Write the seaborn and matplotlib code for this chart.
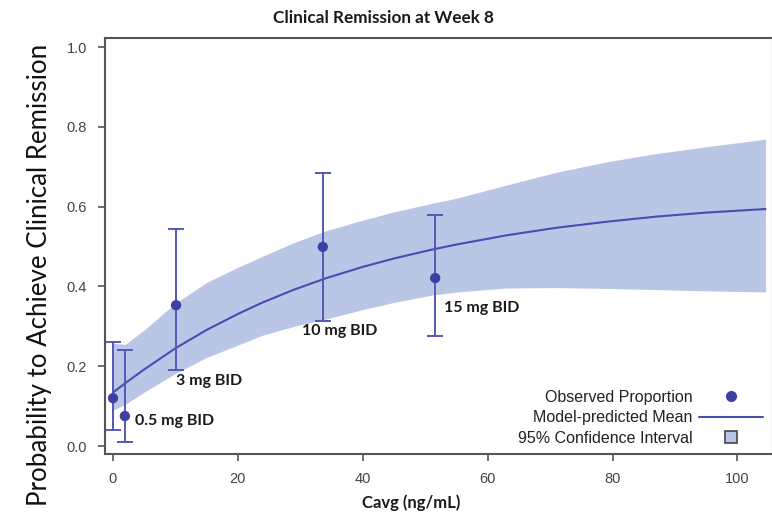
import matplotlib
matplotlib.use("Agg")
import matplotlib.pyplot as plt
import seaborn as sns
import pandas as pd
from matplotlib.lines import Line2D

# ---- data ----
dose_labels = ["Placebo", "0.5 mg BID", "3 mg BID", "10 mg BID", "15 mg BID"]
obs_cavg = [0.0, 1.9, 10.1, 33.6, 51.6]
obs_prop = [0.120, 0.075, 0.353, 0.499, 0.421]
obs_low = [0.040, 0.010, 0.190, 0.313, 0.276]
obs_high = [0.260, 0.240, 0.544, 0.684, 0.578]

curve_cavg = [0, 2, 5, 10, 15, 20, 24, 29, 34, 40, 45, 51, 55, 63, 71, 79, 87, 95, 104.5]
curve_mean = [0.134, 0.158, 0.192, 0.245, 0.291, 0.331, 0.360, 0.392, 0.420, 0.449, 0.470,
              0.492, 0.505, 0.528, 0.547, 0.562, 0.575, 0.585, 0.594]
curve_upper = [0.257, 0.255, 0.291, 0.358, 0.410, 0.448, 0.476, 0.510, 0.539, 0.566, 0.587,
               0.608, 0.621, 0.654, 0.686, 0.712, 0.733, 0.750, 0.769]
curve_lower = [0.090, 0.105, 0.135, 0.182, 0.222, 0.253, 0.278, 0.300, 0.318, 0.342, 0.360,
               0.378, 0.386, 0.396, 0.397, 0.395, 0.392, 0.389, 0.386]

x_ticks = [0, 20, 40, 60, 80, 100]
y_ticks = [0.0, 0.2, 0.4, 0.6, 0.8, 1.0]

# ---- styling ----
sns.set_theme(style="white")
plt.rcParams["font.family"] = ["Liberation Sans", "DejaVu Sans"]

dot_col = "#3c3fa3"
err_col = "#5557b5"
line_col = "#4a4cb2"
band_col = "#bac6e5"
spine_col = "#555555"

W, H = 772, 512
fig = plt.figure(figsize=(W / 100, H / 100), dpi=100)
ax = fig.add_axes([105 / W, 1 - 454 / H, (773 - 105) / W, (454 - 38) / H])

curve = pd.DataFrame({"cavg": curve_cavg, "mean": curve_mean,
                      "lo": curve_lower, "hi": curve_upper})
obs = pd.DataFrame({"cavg": obs_cavg, "prop": obs_prop,
                    "lo": obs_low, "hi": obs_high, "dose": dose_labels})

ax.fill_between(curve["cavg"], curve["lo"], curve["hi"], color=band_col, lw=0, zorder=1)
sns.lineplot(data=curve, x="cavg", y="mean", ax=ax, color=line_col, lw=1.5, zorder=2)

ax.errorbar(obs["cavg"], obs["prop"],
            yerr=[obs["prop"] - obs["lo"], obs["hi"] - obs["prop"]],
            fmt="none", ecolor=err_col, elinewidth=1.4, capsize=6, capthick=1.4, zorder=3)
sns.scatterplot(data=obs, x="cavg", y="prop", ax=ax, color=dot_col, s=55,
                edgecolor="none", zorder=4)

# dose labels (offsets in pixels relative to the anchor)
label_anchor = ["none", "prop", "lo", "lo", "prop"]
label_offset = [(0, 0), (10, -5), (0, -11), (-21, -10), (9, -30)]
for i, row in obs.iterrows():
    if label_anchor[i] == "none":
        continue
    yv = row["prop"] if label_anchor[i] == "prop" else row["lo"]
    ax.annotate(row["dose"], xy=(row["cavg"], yv), xytext=label_offset[i],
                textcoords="offset pixels", ha="left", va="center",
                fontsize=11.5, fontweight="bold", family=["Lato", "DejaVu Sans"],
                color="#1a1a1a", zorder=5)

ax.set_xlim(-1.28, 105.7)
ax.set_ylim(-0.02, 1.0226)
ax.set_xticks(x_ticks)
ax.set_xticklabels([str(t) for t in x_ticks])
ax.set_yticks(y_ticks)
ax.set_yticklabels([f"{t:.1f}" for t in y_ticks])
ax.set_xlabel("")
ax.set_ylabel("")

for s in ax.spines.values():
    s.set_color(spine_col)
    s.set_linewidth(1.5)
ax.tick_params(axis="both", direction="out", length=5, width=1.2, color=spine_col,
               labelcolor="#444444", labelsize=10.5, pad=8,
               bottom=True, left=True)

handles = [
    Line2D([], [], marker="o", ls="none", color=dot_col, markersize=7),
    Line2D([], [], color=line_col, lw=1.5),
    Line2D([], [], marker="s", ls="none", markersize=9, markerfacecolor=band_col,
           markeredgecolor="#444444", markeredgewidth=1.2),
]
labels_leg = ["Observed Proportion", "Model-predicted Mean", "95% Confidence Interval"]
leg = ax.legend(handles, labels_leg, loc="lower right", bbox_to_anchor=(0.985, 0.02),
                frameon=False, markerfirst=False, fontsize=11.5, handlelength=4.0,
                handleheight=0.7, handletextpad=0.4, labelspacing=0.34,
                borderpad=0, borderaxespad=0)
for t in leg.get_texts():
    t.set_color("#222222")

fig.text(383 / W, 1 - 18 / H, "Clinical Remission at Week 8", ha="center", va="center",
         fontsize=12.3, fontweight="bold", family=["Lato", "DejaVu Sans"], color="#1a1a1a")
fig.text(411 / W, 1 - 503 / H, "Cavg (ng/mL)", ha="center", va="center",
         fontsize=12, fontweight="bold", family=["Lato", "DejaVu Sans"], color="#1a1a1a")
fig.text(40 / W, 1 - 275 / H, "Probability to Achieve Clinical Remission", ha="center",
         va="center", rotation=90, fontsize=18.6, family=["Lato", "DejaVu Sans"], color="#111111")

fig.savefig("out.png", dpi=100, facecolor="white")
